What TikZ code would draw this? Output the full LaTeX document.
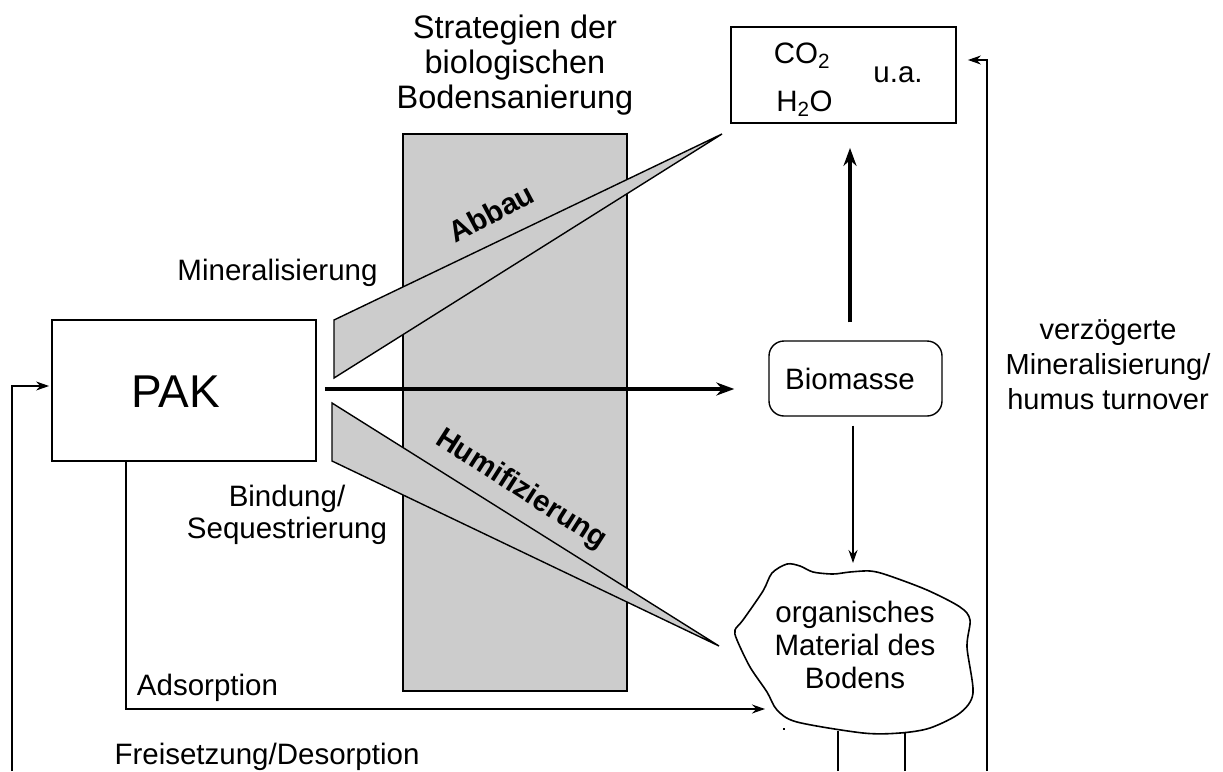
\documentclass[tikz,border=0pt]{standalone}
\usepackage{fontspec}
\setmainfont{Liberation Sans}
\usetikzlibrary{arrows.meta,calc}

\begin{document}
\begin{tikzpicture}[x=1pt,y=-1pt,
  lbl/.style={font=\fontsize{29.5}{34}\selectfont, align=center, inner sep=0pt},
  boxnode/.style={draw, line width=1.8pt, inner sep=0pt},
  conn/.style={line width=1.4pt, -{Stealth[length=13pt,width=9pt]}},
  heavy/.style={line width=4.5pt, -{Stealth[length=18pt,width=13pt]}},
  plain/.style={line width=1.4pt},
  shade/.style={fill=black!20, draw, line width=1.4pt, line join=miter}
]
\useasboundingbox (0,0) rectangle (1223,771);

% strategy band
\draw[shade] (403,134) rectangle (627,691);
\node[lbl, font=\fontsize{32.5}{35}\selectfont] (title) at (515,65)
  {Strategien der\\biologischen\\Bodensanierung};

% wedges for Abbau and Humifizierung
\draw[shade] (334,320) -- (722,134) -- (334,378) -- cycle;
\draw[shade] (332,403) -- (719,646) -- (332,461) -- cycle;
\node[lbl, font=\fontsize{29.5}{34}\bfseries, rotate=28] (abbau) at (491,213) {Abbau};
\node[lbl, font=\fontsize{29.5}{34}\bfseries, rotate=-32.5] (humi) at (521,490) {Humifizierung};

% boxes
\node[boxnode, minimum width=264pt, minimum height=141pt] (pak) at (184,390.5) {};
\node[lbl, font=\fontsize{46}{52}\selectfont, anchor=base] (paktext) at (176,407) {PAK};

\node[boxnode, minimum width=225pt, minimum height=96pt] (co2) at (843.5,75) {};
\node[lbl, anchor=base] (co2t) at (802,63) {CO\textsubscript{2}};
\node[lbl, anchor=base] (h2o) at (804.5,111) {H\textsubscript{2}O};
\node[lbl, anchor=base] (ua) at (898,82) {u.a.};

\node[boxnode, line width=1.4pt, rounded corners=15pt, minimum width=173pt, minimum height=75pt] (biomasse) at (855.5,378.5) {};
\node[lbl, anchor=base] (biotext) at (850,389) {Biomasse};

% soil organic matter cloud
\draw[line width=1.6pt] plot[smooth cycle, tension=0.5] coordinates {
  (772,573) (787,564) (800,566) (813,572) (833,574) (850,572) (870,571)
  (887,575) (927,590) (960,607) (970,620) (967,647) (973,693) (960,713)
  (930,728) (900,733) (863,733) (797,722) (777,710) (767,692) (750,667)
  (737,640) (735,630) (743,620) (763,591)};
\node[lbl, font=\fontsize{29.5}{33}\selectfont] (soil) at (855,645)
  {organisches\\Material des\\Bodens};
\fill (783,728) rectangle (785,730);

% labels
\node[lbl, anchor=base] (minlbl) at (277.5,280) {Mineralisierung};
\node[lbl, font=\fontsize{29.5}{32}\selectfont] (bindlbl) at (287,515) {Bindung/\\Sequestrierung};
\node[lbl, anchor=base] (adslbl) at (207.5,695) {Adsorption};
\node[lbl, anchor=base] (freilbl) at (267,764) {Freisetzung/Desorption};
\node[lbl, font=\fontsize{29}{35}\selectfont] (verzlbl) at (1108,364.5)
  {verzögerte\\Mineralisierung/\\humus turnover};

% connectors
\coordinate (soiltop) at (853,563);
\coordinate (adsend) at (765,709);
\coordinate (leftfoot) at (12,771);
\coordinate (rightfoot) at (987,771);
\coordinate (stemA) at (838,771);
\coordinate (stemB) at (905,771);

\draw[heavy, shorten <=8pt, shorten >=34pt] (pak.east |- 0,389) -- (biomasse.west |- 0,389);
\draw[heavy, shorten <=18pt, shorten >=24pt] (biomasse.north -| 850,0) -- (co2.south -| 850,0);
\draw[conn, shorten <=9pt] (biomasse.south -| 853,0) -- (soiltop);
\draw[conn] (pak.south -| 126,0) |- (adsend);
\draw[conn, shorten >=2pt] (leftfoot) |- (pak.west |- 0,386);
\draw[conn, shorten >=11pt] (rightfoot) |- (co2.east |- 0,60);
\draw[plain] (stemA) -- (838,731);
\draw[plain] (stemB) -- (905,733);
\end{tikzpicture}
\end{document}
